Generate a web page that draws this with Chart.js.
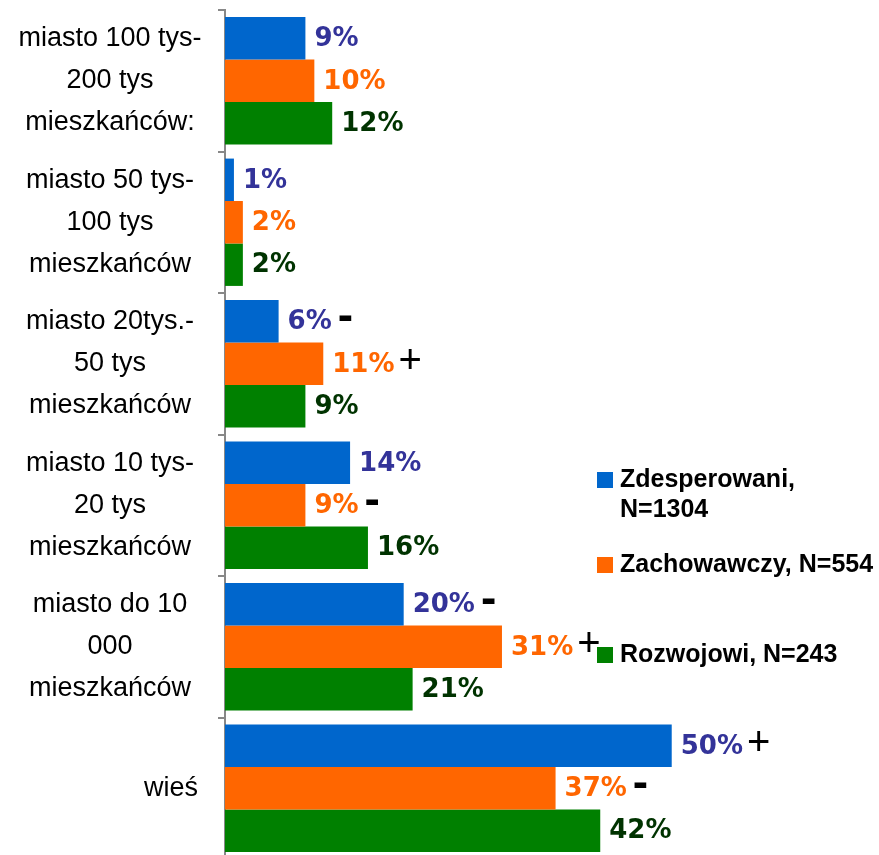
<!DOCTYPE html>
<html>
<head>
<meta charset="utf-8">
<script src="https://cdn.jsdelivr.net/npm/chart.js@4.4.0/dist/chart.umd.min.js"></script>
<style>
  html, body { margin: 0; padding: 0; background: #fff; overflow: hidden; }
</style>
</head>
<body>
<div style="width: 879px; height: 862px; position: relative;">
  <canvas id="wykres"></canvas>
</div>
<script>
// dane
const kategorie = [
  ["miasto 100 tys-", "200 tys", "mieszkańców:"],
  ["miasto 50 tys-", "100 tys", "mieszkańców"],
  ["miasto 20tys.-", "50 tys", "mieszkańców"],
  ["miasto 10 tys-", "20 tys", "mieszkańców"],
  ["miasto do 10", "000", "mieszkańców"],
  ["wieś"]
];
const serie = ["Zdesperowani, N=1304", "Zachowawczy, N=554", "Rozwojowi, N=243"];
const legendaLinie = [["Zdesperowani,", "N=1304"], ["Zachowawczy, N=554"], ["Rozwojowi, N=243"]];
const zdesperowani = [9, 1, 6, 14, 20, 50];
const zachowawczy = [10, 2, 11, 9, 31, 37];
const rozwojowi = [12, 2, 9, 16, 21, 42];
// znaki istotnosci przy etykietach
const znakiZdesperowani = ["", "", "-", "", "-", "+"];
const znakiZachowawczy = ["", "", "+", "-", "+", "-"];
const znakiRozwojowi = ["", "", "", "", "", ""];

const kolory = ["#0066CC", "#FF6600", "#008000"];
const koloryEtykiet = ["#333399", "#FF6600", "#003300"];
const znaki = [znakiZdesperowani, znakiZachowawczy, znakiRozwojowi];

// etykiety kategorii rysowane recznie (wyrownanie jak w oryginale)
const etykietyKategorii = {
  id: "etykietyKategorii",
  afterDraw(chart) {
    const ctx = chart.ctx;
    const sy = chart.scales.y;
    ctx.save();
    ctx.font = '27px "Liberation Sans"';
    ctx.fillStyle = "#000";
    ctx.textBaseline = "middle";
    kategorie.forEach((linie, i) => {
      const yc = sy.getPixelForValue(i);
      const y0 = yc - (linie.length - 1) * 21;
      linie.forEach((t, j) => {
        if (linie.length > 1) {
          ctx.textAlign = "center";
          ctx.fillText(t, 110, y0 + j * 42);
        } else {
          ctx.textAlign = "right";
          ctx.fillText(t, 198, y0 + j * 42);
        }
      });
    });
    ctx.restore();
  }
};

// wartosci i znaki +/- przy slupkach
const etykietyWartosci = {
  id: "etykietyWartosci",
  afterDatasetsDraw(chart) {
    const ctx = chart.ctx;
    ctx.save();
    ctx.textBaseline = "middle";
    ctx.textAlign = "left";
    chart.data.datasets.forEach((ds, d) => {
      const meta = chart.getDatasetMeta(d);
      meta.data.forEach((bar, i) => {
        const txt = ds.data[i] + "%";
        const x = bar.x + 9;
        ctx.font = 'bold 26px "DejaVu Sans"';
        ctx.fillStyle = koloryEtykiet[d];
        ctx.fillText(txt, x, bar.y + 1);
        const w = ctx.measureText(txt).width;
        const z = znaki[d][i];
        if (z) {
          ctx.fillStyle = "#000";
          if (z === "+") {
            ctx.font = '40px "Liberation Sans"';
            ctx.fillText("+", x + w + 4, bar.y - 2);
          } else {
            ctx.font = 'bold 46px "Liberation Sans"';
            ctx.fillText("-", x + w + 6, bar.y - 4);
          }
        }
      });
    });
    ctx.restore();
  }
};

// legenda po prawej stronie
const legenda = {
  id: "legenda",
  afterDraw(chart) {
    const ctx = chart.ctx;
    const pozY = [480, 565, 655];
    ctx.save();
    ctx.font = 'bold 25px "Liberation Sans"';
    ctx.textBaseline = "middle";
    ctx.textAlign = "left";
    legendaLinie.forEach((linie, k) => {
      ctx.fillStyle = kolory[k];
      ctx.fillRect(597, pozY[k] - 8, 16, 16);
      ctx.fillStyle = "#000";
      linie.forEach((t, j) => ctx.fillText(t, 620, pozY[k] + j * 30));
    });
    ctx.restore();
  }
};

const ctx = document.getElementById("wykres").getContext("2d");
const wykres = new Chart(ctx, {
  type: "bar",
  data: {
    labels: kategorie,
    datasets: [
      { label: serie[0], data: zdesperowani, backgroundColor: kolory[0] },
      { label: serie[1], data: zachowawczy, backgroundColor: kolory[1] },
      { label: serie[2], data: rozwojowi, backgroundColor: kolory[2] }
    ]
  },
  options: {
    indexAxis: "y",
    responsive: true,
    maintainAspectRatio: false,
    animation: false,
    categoryPercentage: 0.9,
    barPercentage: 1.0,
    layout: { padding: { top: 10, bottom: 3, left: 0, right: 0 } },
    plugins: { legend: { display: false }, tooltip: { enabled: false } },
    scales: {
      x: { display: false, min: 0, max: 73.2 },
      y: {
        grid: { offset: true, drawOnChartArea: false, drawTicks: true, tickLength: 7, color: "#888", lineWidth: 2 },
        border: { display: true, color: "#888", width: 2 },
        ticks: { display: false },
        afterFit(scale) { scale.width = 225; }
      }
    }
  },
  plugins: [etykietyKategorii, etykietyWartosci, legenda]
});
</script>
</body>
</html>
